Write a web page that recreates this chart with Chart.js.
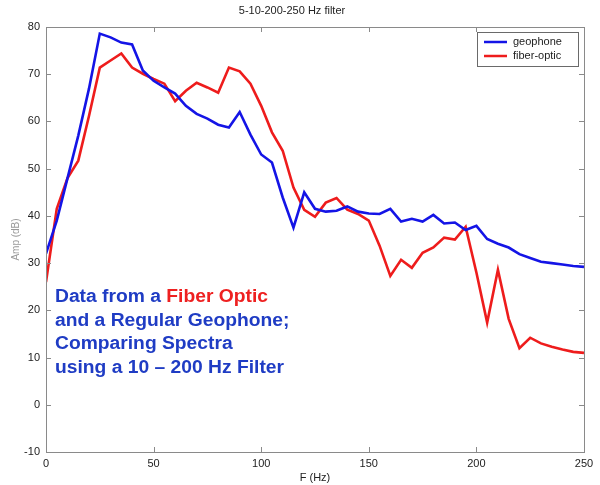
<!DOCTYPE html>
<html lang="en">

<head>
  <meta charset="UTF-8">
  <title>5-10-200-250 Hz filter</title>
  <script src="https://cdn.jsdelivr.net/npm/chart.js@4.4.0/dist/chart.umd.min.js"></script>
  <style>
    html, body { margin: 0; padding: 0; background: #fff; }
  </style>
</head>

<body>
  <canvas id="myChart" width="600" height="485"></canvas>

  <script>
    // frequency axis (Hz), one point every 5 Hz
    let freq = [0, 5, 10, 15, 20, 25, 30, 35, 40, 45, 50, 55, 60, 65, 70, 75, 80, 85, 90, 95,
      100, 105, 110, 115, 120, 125, 130, 135, 140, 145, 150, 155, 160, 165, 170, 175, 180, 185, 190, 195,
      200, 205, 210, 215, 220, 225, 230, 235, 240, 245, 250];
    // amplitude (dB)
    let geophone = [32, 39, 48, 57, 67, 78.6, 77.8, 76.7, 76.3, 70.8, 68.6, 67.2, 65.9, 63.3, 61.6, 60.6, 59.3, 58.7, 62, 57.2,
      53, 51.3, 43.9, 37.5, 45, 41.5, 40.9, 41.1, 42, 40.9, 40.5, 40.4, 41.5, 38.8, 39.4, 38.8, 40.2, 38.4, 38.6, 37,
      37.9, 35.1, 34.1, 33.3, 31.9, 31.1, 30.3, 30, 29.7, 29.4, 29.2];
    let fiberOptic = [26, 41.5, 48, 51.7, 61.2, 71.4, 72.9, 74.4, 71.4, 70.1, 69, 68, 64.3, 66.5, 68.2, 67.2, 66.1, 71.4, 70.6, 68,
      63.3, 57.7, 53.8, 46, 41.3, 39.8, 42.8, 43.8, 41.3, 40.4, 39, 33.7, 27.3, 30.7, 29, 32.2, 33.3, 35.4, 35, 37.7,
      28, 17.4, 28.6, 18.2, 12, 14.2, 13, 12.3, 11.7, 11.2, 11];
    let seriesNames = ['geophone', 'fiber-optic'];
    let xTicks = [0, 50, 100, 150, 200, 250];
    let yTicks = [-10, 0, 10, 20, 30, 40, 50, 60, 70, 80];

    const FONT = '"Liberation Sans", Arial, sans-serif';
    const BLUE = '#1414e6';
    const RED = '#ee1c1c';
    const NOTE_BLUE = '#1f3cc4';
    const NOTE_RED = '#ee2020';

    // box round the plot with matlab style inner ticks
    const frame = {
      id: 'frame',
      afterDatasetsDraw(chart) {
        const { ctx, chartArea: a, scales } = chart;
        ctx.save();
        ctx.strokeStyle = '#8a8a8a';
        ctx.lineWidth = 1;
        ctx.beginPath();
        xTicks.forEach(v => {
          const x = Math.round(scales.x.getPixelForValue(v)) + 0.5;
          ctx.moveTo(x, a.bottom); ctx.lineTo(x, a.bottom - 5);
          ctx.moveTo(x, a.top); ctx.lineTo(x, a.top + 5);
        });
        yTicks.forEach(v => {
          const y = Math.round(scales.y.getPixelForValue(v)) + 0.5;
          ctx.moveTo(a.left, y); ctx.lineTo(a.left + 5, y);
          ctx.moveTo(a.right, y); ctx.lineTo(a.right - 5, y);
        });
        ctx.stroke();
        ctx.strokeRect(Math.round(a.left) + 0.5, Math.round(a.top) + 0.5,
          Math.round(a.right - a.left), Math.round(a.bottom - a.top));
        ctx.restore();
      }
    };

    // legend box inside the top right corner
    const boxLegend = {
      id: 'boxLegend',
      afterDraw(chart) {
        const { ctx, chartArea: a } = chart;
        const w = 101, h = 34;
        const x0 = a.right - 6 - w, y0 = a.top + 5;
        ctx.save();
        ctx.fillStyle = '#fff';
        ctx.fillRect(x0, y0, w, h);
        ctx.strokeStyle = '#6a6a6a';
        ctx.lineWidth = 1;
        ctx.strokeRect(x0 + 0.5, y0 + 0.5, w, h);
        ctx.font = '11px ' + FONT;
        ctx.textBaseline = 'middle';
        chart.data.datasets.forEach((ds, i) => {
          const y = y0 + 10 + i * 14;
          ctx.strokeStyle = ds.borderColor;
          ctx.lineWidth = 2.5;
          ctx.beginPath();
          ctx.moveTo(x0 + 7, y); ctx.lineTo(x0 + 30, y);
          ctx.stroke();
          ctx.fillStyle = '#222';
          ctx.fillText(ds.label, x0 + 36, y);
        });
        ctx.restore();
      }
    };

    // the slide note over the plot (glyphs a bit wide, like the slide)
    const note = {
      id: 'note',
      afterDraw(chart) {
        const ctx = chart.ctx;
        const lines = [
          [['Data from a ', NOTE_BLUE], ['Fiber Optic', NOTE_RED]],
          [['and a Regular Geophone;', NOTE_BLUE]],
          [['Comparing Spectra', NOTE_BLUE]],
          [['using a 10 \u2013 200 Hz Filter', NOTE_BLUE]]
        ];
        const sx = 1.07;
        ctx.save();
        ctx.translate(55, 0);
        ctx.scale(sx, 1);
        ctx.font = 'bold 18px ' + FONT;
        ctx.textBaseline = 'middle';
        lines.forEach((parts, i) => {
          let x = 0;
          const y = 297 + i * 23.6;
          parts.forEach(([t, c]) => {
            ctx.fillStyle = c;
            ctx.fillText(t, x, y);
            x += ctx.measureText(t).width;
          });
        });
        ctx.restore();
      }
    };

    let ctx = document.getElementById('myChart').getContext('2d');
    let myChart = new Chart(ctx, {
      type: 'line',
      data: {
        datasets: [{
          label: seriesNames[0],
          data: freq.map((f, i) => ({ x: f, y: geophone[i] })),
          borderColor: BLUE,
          borderWidth: 2.6,
          pointRadius: 0,
          tension: 0
        }, {
          label: seriesNames[1],
          data: freq.map((f, i) => ({ x: f, y: fiberOptic[i] })),
          borderColor: RED,
          borderWidth: 2.6,
          pointRadius: 0,
          tension: 0
        }]
      },
      options: {
        responsive: false,
        animation: false,
        devicePixelRatio: 1,
        layout: { padding: { left: 0, right: 16, top: 0, bottom: 0 } },
        plugins: {
          legend: { display: false },
          tooltip: { enabled: false },
          title: {
            display: true,
            text: '5-10-200-250 Hz filter',
            color: '#222',
            font: { family: FONT, size: 11, weight: 'normal' },
            padding: { top: 4, bottom: 9.8 }
          }
        },
        scales: {
          x: {
            type: 'linear',
            min: 0,
            max: 250,
            afterBuildTicks: s => { s.ticks = xTicks.map(v => ({ value: v })); },
            afterFit: s => { s.height = 33; },
            grid: { display: false, drawTicks: false },
            border: { display: false },
            ticks: { color: '#222', padding: 5, maxRotation: 0, font: { family: FONT, size: 11 } },
            title: { display: true, text: 'F (Hz)', color: '#222', padding: 0, font: { family: FONT, size: 11 } }
          },
          y: {
            min: -10,
            max: 80,
            afterBuildTicks: s => { s.ticks = yTicks.map(v => ({ value: v })); },
            afterFit: s => { s.width = 46; },
            grid: { display: false, drawTicks: false },
            border: { display: false },
            ticks: { color: '#222', padding: 6, font: { family: FONT, size: 11 } },
            title: { display: true, text: 'Amp (dB)', color: '#9a9a9a', padding: { top: 10, bottom: 0 }, font: { family: FONT, size: 10 } }
          }
        }
      },
      plugins: [frame, boxLegend, note]
    });
  </script>

</body>

</html>
